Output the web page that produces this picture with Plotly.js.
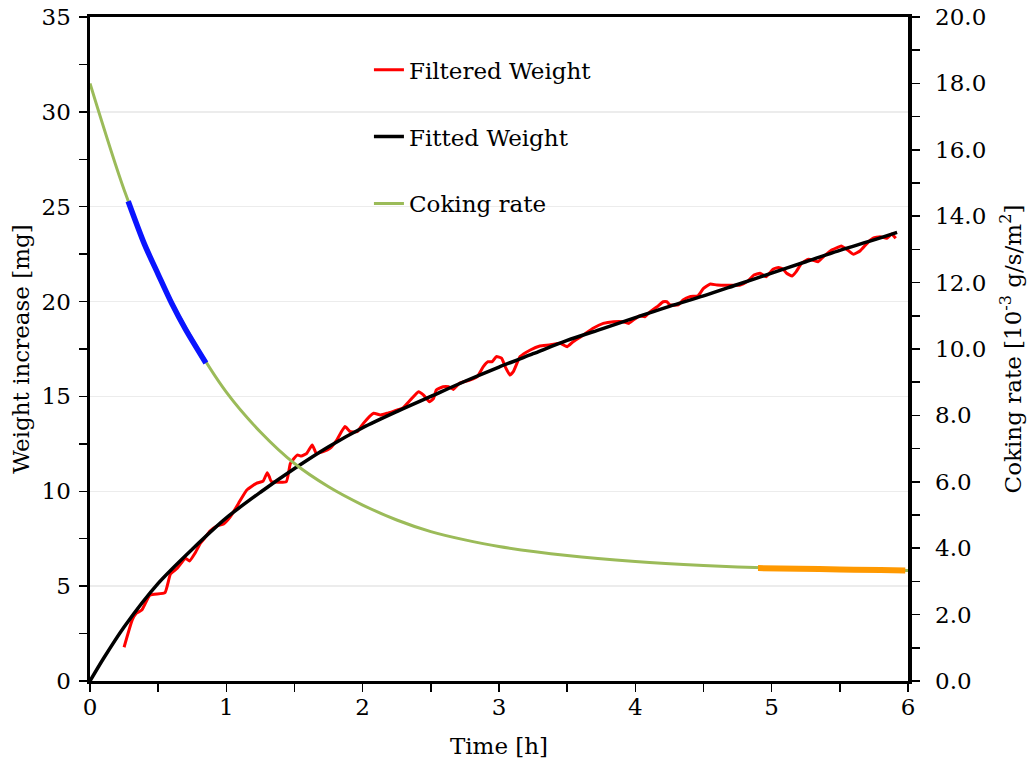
<!DOCTYPE html>
<html>
<head>
<meta charset="utf-8">
<script src="https://cdn.plot.ly/plotly-3.0.1.min.js"></script>
<style>
  html, body { margin: 0; padding: 0; background: #fff; }
  #chart { width: 1036px; height: 767px; }
</style>
</head>
<body>
<div id="chart"></div>
<script>
// Measured (filtered) weight gain, mg vs time in hours
const filteredTime = [0.25, 0.31, 0.34, 0.38, 0.44, 0.55, 0.59, 0.64, 0.70, 0.73, 0.77, 0.81, 0.84, 0.88, 0.93, 0.98,
  1.03, 1.09, 1.15, 1.22, 1.27, 1.30, 1.315, 1.33, 1.44, 1.47, 1.52, 1.55, 1.59, 1.63, 1.66, 1.71, 1.76, 1.81, 1.87,
  1.91, 1.96, 2.005, 2.08, 2.13, 2.18, 2.25, 2.29, 2.35, 2.41, 2.445, 2.49, 2.52, 2.54, 2.59, 2.63, 2.665, 2.71,
  2.79, 2.84, 2.885, 2.92, 2.95, 2.98, 3.02, 3.045, 3.08, 3.105, 3.155, 3.23, 3.30, 3.37, 3.45, 3.50, 3.545, 3.62,
  3.69, 3.765, 3.84, 3.91, 3.95, 3.985, 4.03, 4.07, 4.11, 4.16, 4.205, 4.23, 4.255, 4.315, 4.35, 4.40, 4.46, 4.50,
  4.55, 4.60, 4.77, 4.82, 4.87, 4.915, 4.96, 5.01, 5.05, 5.085, 5.11, 5.15, 5.18, 5.22, 5.27, 5.31, 5.34, 5.38,
  5.43, 5.48, 5.51, 5.55, 5.60, 5.65, 5.70, 5.745, 5.795, 5.845, 5.88, 5.91];
const filteredWeight = [1.78, 3.22, 3.57, 3.74, 4.53, 4.66, 5.64, 5.94, 6.47, 6.33, 6.73, 7.26, 7.52, 7.90, 8.17, 8.28,
  8.66, 9.37, 10.07, 10.42, 10.54, 10.98, 10.77, 10.51, 10.51, 11.47, 11.91, 11.86, 12.00, 12.44, 12.00, 12.09, 12.26, 12.70, 13.41,
  13.14, 13.14, 13.58, 14.11, 14.02, 14.11, 14.28, 14.37, 14.81, 15.25, 15.08, 14.72, 14.90, 15.34, 15.51, 15.51, 15.37, 15.69,
  15.87, 16.04, 16.57, 16.83, 16.83, 17.10, 17.01, 16.57, 16.13, 16.31, 17.10, 17.45, 17.66, 17.71, 17.80, 17.62, 17.89, 18.24,
  18.59, 18.85, 18.94, 18.94, 18.85, 19.03, 19.24, 19.20, 19.47, 19.73, 19.99, 19.99, 19.82, 19.82, 20.08, 20.26, 20.31, 20.70,
  20.93, 20.87, 20.87, 21.05, 21.40, 21.49, 21.31, 21.70, 21.80, 21.70, 21.49, 21.35, 21.58, 22.02, 22.23, 22.16, 22.10, 22.37,
  22.67, 22.84, 22.93, 22.76, 22.49, 22.68, 23.07, 23.34, 23.42, 23.34, 23.56, 23.34];

// Fitted weight curve, mg
const fittedTime = [0, 0.1, 0.25, 0.5, 0.75, 1.0, 1.25, 1.5, 1.75, 2.0, 2.25, 2.5, 2.75, 3.0, 3.25, 3.5, 3.75, 4.0,
  4.25, 4.5, 4.75, 5.0, 5.25, 5.5, 5.75, 5.92];
const fittedWeight = [0, 1.2, 2.85, 5.15, 6.95, 8.6, 9.95, 11.2, 12.35, 13.35, 14.2, 15.0, 15.8, 16.55, 17.25, 17.95, 18.55, 19.15,
  19.75, 20.3, 20.9, 21.5, 22.1, 22.7, 23.25, 23.65];

// Coking rate, 10^-3 g/s/m^2
const rateTime = [0, 0.25, 0.5, 0.75, 1.0, 1.25, 1.5, 1.75, 2.0, 2.25, 2.5, 2.75, 3.0, 3.5, 4.0, 4.5, 5.0, 5.5, 6.0];
const rateValue = [18.0, 14.8, 12.25, 10.3, 8.7, 7.5, 6.55, 5.85, 5.3, 4.85, 4.5, 4.25, 4.05, 3.78, 3.6, 3.48, 3.4, 3.36, 3.33];

// Highlighted stretches of the coking rate: initial and final periods
const initialTime = [0.28, 0.4, 0.5, 0.6, 0.7, 0.85];
const initialRate = [14.45, 13.15, 12.25, 11.37, 10.6, 9.58];
const finalTime = [4.9, 5.2, 5.5, 5.8, 5.98];
const finalRate = [3.40, 3.38, 3.36, 3.34, 3.33];

const FONT = 'DejaVu Serif, Liberation Serif, serif';

const traces = [
  { x: filteredTime, y: filteredWeight, mode: 'lines', name: 'Filtered Weight',
    legendgroup: 'a',
    line: { color: '#ff0000', width: 3, shape: 'spline', smoothing: 0.4 } },
  { x: fittedTime, y: fittedWeight, mode: 'lines', name: 'Fitted Weight',
    legendgroup: 'b',
    line: { color: '#000000', width: 3.5, shape: 'spline', smoothing: 0.8 } },
  { x: rateTime, y: rateValue, yaxis: 'y2', mode: 'lines', name: 'Coking rate',
    legendgroup: 'c',
    line: { color: '#9bbb59', width: 3, shape: 'spline', smoothing: 0.8 } },
  { x: initialTime, y: initialRate, yaxis: 'y2', mode: 'lines', showlegend: false,
    line: { color: '#0a14ff', width: 5.5, shape: 'spline', smoothing: 0.8 } },
  { x: finalTime, y: finalRate, yaxis: 'y2', mode: 'lines', showlegend: false,
    line: { color: '#ff9900', width: 6, shape: 'spline' } }
];

const layout = {
  width: 1036, height: 767,
  margin: { l: 90, r: 128, t: 17, b: 86 },
  paper_bgcolor: '#ffffff', plot_bgcolor: '#ffffff',
  font: { family: FONT, size: 23, color: '#000' },
  showlegend: true,
  legend: {
    x: 0.341, y: 0.953, xanchor: 'left', yanchor: 'top',
    bgcolor: 'rgba(0,0,0,0)', borderwidth: 0,
    tracegroupgap: 34, traceorder: 'grouped',
    font: { family: FONT, size: 23, color: '#000' }
  },
  xaxis: {
    range: [0, 6], dtick: 1, tick0: 0,
    ticks: 'outside', ticklen: 8, tickwidth: 1.5, tickcolor: '#000',
    minor: { dtick: 0.5, ticks: 'outside', ticklen: 8, tickwidth: 1.5, tickcolor: '#000' },
    showline: true, linecolor: '#000', linewidth: 3, mirror: true,
    showgrid: false, zeroline: false,
    ticklabelstandoff: -5,
    tickfont: { family: FONT, size: 23 },
    title: { text: 'Time [h]', font: { family: FONT, size: 23 }, standoff: 20 }
  },
  yaxis: {
    range: [0, 35], dtick: 5, tick0: 0,
    ticks: 'outside', ticklen: 8, tickwidth: 1.5, tickcolor: '#000',
    minor: { dtick: 2.5, ticks: 'outside', ticklen: 8, tickwidth: 1.5, tickcolor: '#000', showgrid: false },
    showline: true, linecolor: '#000', linewidth: 3.5,
    showgrid: true, gridcolor: '#ececec', gridwidth: 1.5, zeroline: false,
    ticklabelstandoff: 3,
    tickfont: { family: FONT, size: 23 },
    title: { text: 'Weight increase [mg]', font: { family: FONT, size: 23 }, standoff: 6 }
  },
  yaxis2: {
    overlaying: 'y', side: 'right',
    range: [0, 20], dtick: 2, tick0: 0, tickformat: '.1f',
    ticks: 'outside', ticklen: 8, tickwidth: 1.5, tickcolor: '#000',
    minor: { dtick: 1, ticks: 'outside', ticklen: 8, tickwidth: 1.5, tickcolor: '#000' },
    showline: true, linecolor: '#000', linewidth: 3.5,
    showgrid: false, zeroline: false,
    ticklabelstandoff: 11,
    tickfont: { family: FONT, size: 23 },
    title: { text: 'Coking rate [10<sup>-3</sup> g/s/m<sup>2</sup>]', font: { family: FONT, size: 23 }, standoff: 20 }
  }
};

Plotly.newPlot('chart', traces, layout, { displayModeBar: false, staticPlot: true });
</script>
</body>
</html>
